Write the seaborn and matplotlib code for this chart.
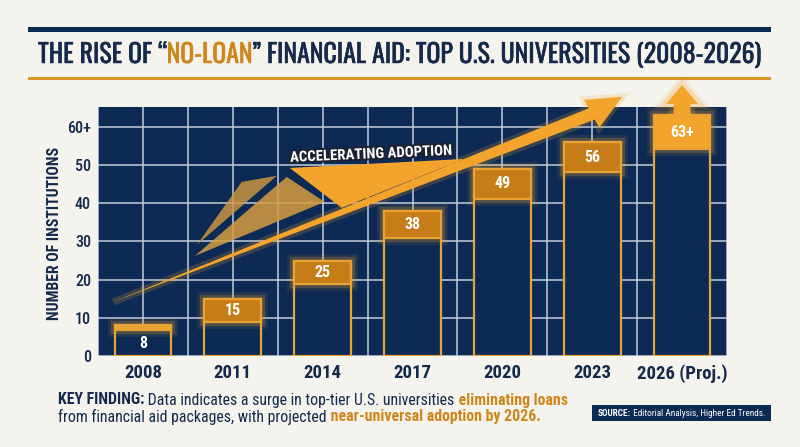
import matplotlib
matplotlib.use("Agg")
import matplotlib.pyplot as plt
import matplotlib.patheffects as pe
from matplotlib.patches import Polygon, Rectangle
import seaborn as sns
import pandas as pd
import numpy as np

# ---------------- data ----------------
years = ["2008", "2011", "2014", "2017", "2020", "2023", "2026 (Proj.)"]
institutions = [8, 15, 25, 38, 49, 56, 63]
value_labels = ["8", "15", "25", "38", "49", "56", "63+"]
y_ticks = [0, 10, 20, 30, 40, 50, 60]
y_tick_labels = ["0", "10", "20", "30", "40", "50", "60+"]

# ---------------- style ----------------
cap_depth = [1.3, 6.0, 6.1, 7.1, 7.8, 7.8, 8.8]   # depth of the orange top caps
NAVY = "#0c2a54"
NAVY_TXT = "#14294b"
ORANGE = "#f3a42c"
ORANGE_TXT = "#cf861d"
CAP_DARK = "#c67d17"
EDGE = "#e9a334"
BG = "#f4f3ee"
GRID = "#c3cddb"
W, H = 800, 447

BODY = ["Roboto Condensed", "Liberation Sans Narrow", "DejaVu Sans"]
TITLE = ["Oswald", "Roboto Condensed", "DejaVu Sans"]

sns.set_theme(style="white")
plt.rcParams["font.family"] = BODY

fig = plt.figure(figsize=(W / 100, H / 100), dpi=100, facecolor=BG)
ax = fig.add_axes([98 / W, 1 - 356 / H, (727 - 98) / W, (356 - 107) / H])
ax.set_facecolor(NAVY)

df = pd.DataFrame({"year": years, "n": institutions})
sns.barplot(data=df, x="year", y="n", order=years, color=NAVY, saturation=1,
            edgecolor=EDGE, linewidth=1.6, width=0.63, ax=ax, zorder=3)

glow = [pe.Stroke(linewidth=10, foreground=ORANGE, alpha=0.10),
        pe.Stroke(linewidth=6, foreground=ORANGE, alpha=0.22),
        pe.Normal()]

for i, (v, d, lbl) in enumerate(zip(institutions, cap_depth, value_labels)):
    if i == 0:
        fc = "#e8a334"
    elif i == len(institutions) - 1:
        fc = ORANGE
    else:
        fc = CAP_DARK
    ax.bar(i, d, bottom=v - d, width=0.63, color=fc, edgecolor=EDGE,
           linewidth=1.6, zorder=4, path_effects=glow)
    ty = (v - d) / 2 if d < 3 else v - d / 2
    ax.text(i, ty, lbl, ha="center", va="center", color="white",
            fontsize=11.5, fontweight="bold", zorder=7)

# projected up-arrow on the last bar
last = len(institutions) - 1
top = institutions[last]
up = [(last - 0.094, top), (last - 0.094, top + 3.0), (last - 0.178, top + 3.0),
      (last, top + 7.9), (last + 0.178, top + 3.0), (last + 0.094, top + 3.0),
      (last + 0.094, top)]
ax.add_patch(Polygon(up, closed=True, facecolor=ORANGE, edgecolor="none",
                     clip_on=False, zorder=5, path_effects=glow))

# trend arrow + paper-plane wedges
sliver = [(0.60, 29.1), (1.10, 45.6), (1.49, 47.2)]
mid_tri = [(0.578, 26.2), (1.60, 46.9), (2.022, 40.35)]
wedge = [(1.633, 49.25), (2.211, 38.8), (3.578, 51.6)]
shaft = [(-0.333, 14.15), (5.028, 61.93), (5.078, 59.73), (5.333, 67.85),
         (4.911, 67.07), (4.961, 64.87)]
ax.add_patch(Polygon(sliver, closed=True, facecolor="#cf973f", alpha=0.82,
                     edgecolor="none", zorder=5))
ax.add_patch(Polygon(mid_tri, closed=True, facecolor="#d69d42", alpha=0.85,
                     edgecolor="none", zorder=5))
ax.add_patch(Polygon(wedge, closed=True, facecolor=ORANGE, edgecolor="none", zorder=6))
ax.add_patch(Polygon(shaft, closed=True, facecolor=ORANGE, edgecolor="none",
                     clip_on=False, zorder=6,
                     path_effects=[pe.Stroke(linewidth=5, foreground=ORANGE, alpha=0.2),
                                   pe.Normal()]))
acc = ax.text(2.533, 52.8, "ACCELERATING ADOPTION", rotation=2.5, rotation_mode="anchor",
              ha="center", va="center", color="white", fontsize=12, fontweight="bold",
              zorder=8, path_effects=[pe.withStroke(linewidth=3, foreground="#1b2233")])

# axes / grid
ax.set_xlim(-0.5, 6.5)
ax.set_ylim(0, 65.2)
ax.set_yticks(y_ticks)
ax.set_yticklabels(y_tick_labels)
ax.set_xticks(np.arange(-0.5, 7.0, 1.0), minor=True)
ax.grid(True, which="both", axis="x", color=GRID, linewidth=1.1)
ax.grid(True, which="major", axis="y", color=GRID, linewidth=1.1)
ax.set_axisbelow(True)
for s in ax.spines.values():
    s.set_visible(False)
ax.tick_params(axis="both", which="both", length=0)
ax.tick_params(axis="y", pad=5, labelsize=11.5, labelcolor=NAVY_TXT)
ax.tick_params(axis="x", pad=6, labelsize=13.5, labelcolor=NAVY_TXT)
for t in ax.get_xticklabels():
    t.set_fontweight("bold")
for t in ax.get_yticklabels():
    t.set_fontweight("medium")
ax.set_xlabel("")
ylab = ax.set_ylabel("NUMBER OF INSTITUTIONS", fontsize=12, fontweight="bold", color=NAVY_TXT)
ax.yaxis.set_label_coords((62 - 98) / 629, 0.494)

# ---------------- header / footer ----------------
fig.add_artist(Rectangle((28 / W, 1 - 32 / H), (771 - 28) / W, 5 / H,
                         transform=fig.transFigure, color=NAVY, lw=0))
fig.add_artist(Rectangle((28 / W, 1 - 79.5 / H), (771 - 28) / W, 3 / H,
                         transform=fig.transFigure, color="#d9951f", lw=0))

fig.canvas.draw()
renderer = fig.canvas.get_renderer()

def fit(text_obj, target_px, along_height=False):
    bb = text_obj.get_window_extent(renderer)
    cur = bb.height if along_height else bb.width
    text_obj.set_fontsize(text_obj.get_fontsize() * target_px / cur)

fit(acc, 162)
fit(ylab, 173, along_height=True)

def runs(x_px, y_px, parts, size, family, draw=True, stroke=0.0):
    x = x_px
    made = []
    for text, color, weight in parts:
        t = fig.text(x / W, 1 - y_px / H, text, color=color, fontweight=weight,
                     fontsize=size, ha="left", va="center", family=family)
        if stroke:
            t.set_path_effects([pe.withStroke(linewidth=stroke, foreground=color)])
        x += t.get_window_extent(renderer).width
        made.append(t)
    if not draw:
        for t in made:
            t.remove()
    return x - x_px

title_parts = [("THE RISE OF “", NAVY_TXT, "bold"),
               ("NO-LOAN", ORANGE_TXT, "bold"),
               ("” FINANCIAL AID: TOP U.S. UNIVERSITIES (2008-2026)", NAVY_TXT, "bold")]
w0 = runs(38, 55, title_parts, 20, TITLE, draw=False)
runs(38, 55, title_parts, 20 * 723 / w0, TITLE, stroke=0.35)

line1 = [("KEY FINDING:", NAVY_TXT, "bold"),
         (" Data indicates a surge in top-tier U.S. universities", NAVY_TXT, "normal"),
         (" eliminating loans", ORANGE_TXT, "bold")]
line2 = [("from financial aid packages, with projected", NAVY_TXT, "normal"),
         (" near-universal adoption by 2026.", ORANGE_TXT, "bold")]
w1 = runs(58, 400, line1, 12, BODY, draw=False)
kf = 12 * 512 / w1
runs(58, 400, line1, kf, BODY)
runs(58, 417, line2, kf, BODY)

fig.add_artist(Rectangle((592 / W, 1 - 421 / H), (771 - 592) / W, 16 / H,
                         transform=fig.transFigure, color=NAVY, lw=0))
src = [("SOURCE:", "white", "bold"), (" Editorial Analysis, Higher Ed Trends.", "white", "normal")]
ws = runs(598, 413, src, 8, BODY, draw=False)
runs(598, 413, src, 8 * 167 / ws, BODY)

fig.savefig("out.png", dpi=100, facecolor=BG)
